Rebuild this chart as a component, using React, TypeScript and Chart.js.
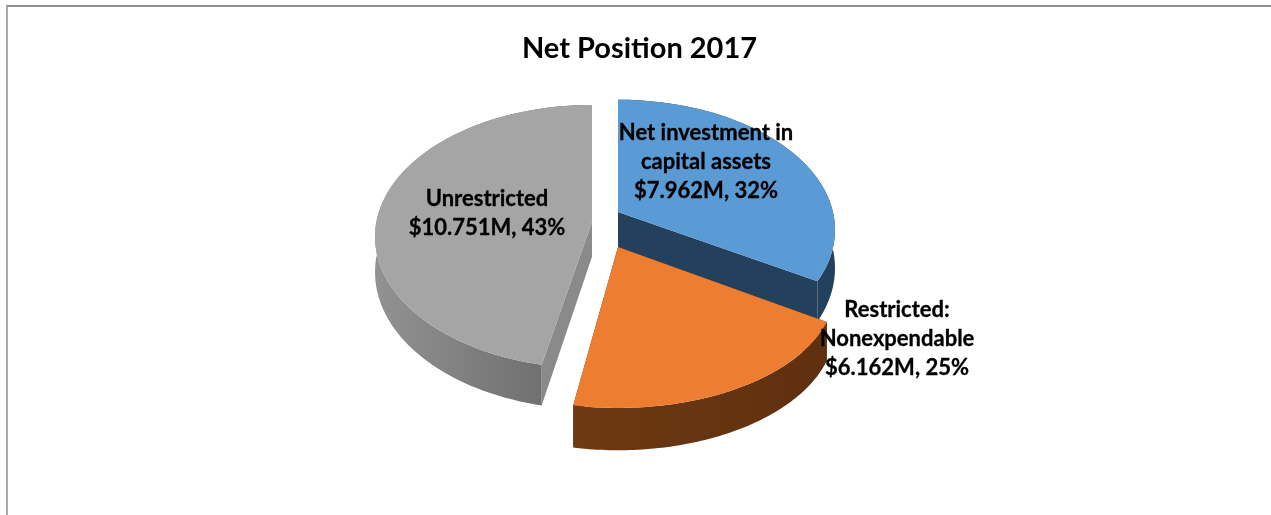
import React, { useEffect, useRef } from "react";
import { Chart, registerables } from "chart.js";

Chart.register(...registerables);

const categories = ["Net investment in capital assets", "Restricted: Nonexpendable", "Unrestricted"];
const valuesMillions = [7.962, 6.162, 10.751];
const labelLines = [["Net investment in", "capital assets"], ["Restricted:", "Nonexpendable"], ["Unrestricted"]];
const sliceColors = ["#5b9bd5", "#ed7d31", "#a5a5a5"];
const chartTitle = "Net Position 2017";

// How each exploded slice is projected (pseudo-3D), relative to the arc centre the library computes.
const faces = [
  { dx: -21.5, dy: -20, ry: 0.6, cy: 0.083, warp: [0, -2], extra: 3, wall: ["#23405c", "#23405c"], cut: "#23405c" },
  { dx: -21.5, dy: 15, ry: 0.544, cy: 0.198, warp: [-9.4, -12.5], extra: 0, wall: ["#6e3913", "#5f300f"], cut: "#633210" },
  { dx: -47.5, dy: -10, ry: 0.607, cy: 0.068, warp: [-11, 0], extra: 0, wall: ["#929292", "#666666"], cut: "#8a8a8a" },
];
const labelOffsets = [
  { x: 66.5, y: -98.5 },
  { x: 257.5, y: 78.5 },
  { x: -152.5, y: -32.5 },
];

const pie3d = {
  id: "pie3d",
  beforeDatasetsDraw(chart: any) {
    const ctx = chart.ctx;
    const arcs = chart.getDatasetMeta(0).data;
    const total = valuesMillions.reduce((a, b) => a + b, 0);
    const depthAt = (y: number) => 30 + 0.04 * (y - 100);

    const rims = arcs.map((arc: any, i: number) => {
      const f = faces[i];
      const a0 = arc.startAngle + Math.PI / 2;
      const a1 = arc.endAngle + Math.PI / 2;
      const R = arc.outerRadius;
      const ax = arc.x + f.dx;
      const ay = arc.y + f.dy;
      const pts: [number, number][] = [];
      const N = 80;
      for (let k = 0; k <= N; k++) {
        const p = k / N;
        const t = a0 + (a1 - a0) * p + ((f.warp[0] + (f.warp[1] - f.warp[0]) * p) * Math.PI) / 180;
        pts.push([ax + R * Math.sin(t), ay + R * (f.cy - f.ry * Math.cos(t))]);
      }
      return { ax, ay, pts };
    });

    const order = [0, 2, 1];
    order.forEach((i) => {
      const f = faces[i];
      const { ax, ay, pts } = rims[i];
      const xs = pts.map((p: number[]) => p[0]);
      const depth = (y: number) => depthAt(y) + f.extra;

      // cut walls
      ctx.fillStyle = f.cut;
      [pts[0], pts[pts.length - 1]].forEach((p: number[]) => {
        ctx.beginPath();
        ctx.moveTo(ax, ay);
        ctx.lineTo(p[0], p[1]);
        ctx.lineTo(p[0], p[1] + depth(p[1]));
        ctx.lineTo(ax, ay + depth(ay));
        ctx.closePath();
        ctx.fill();
      });

      // outer wall
      const g = ctx.createLinearGradient(Math.min(...xs), 0, Math.max(...xs), 0);
      g.addColorStop(0, f.wall[0]);
      g.addColorStop(1, f.wall[1]);
      ctx.fillStyle = g;
      ctx.beginPath();
      pts.forEach((p: number[], k: number) => (k ? ctx.lineTo(p[0], p[1]) : ctx.moveTo(p[0], p[1])));
      for (let k = pts.length - 1; k >= 0; k--) ctx.lineTo(pts[k][0], pts[k][1] + depth(pts[k][1]));
      ctx.closePath();
      ctx.fill();

      // top face
      ctx.fillStyle = arcs[i].options.backgroundColor;
      ctx.beginPath();
      ctx.moveTo(ax, ay);
      pts.forEach((p: number[]) => ctx.lineTo(p[0], p[1]));
      ctx.closePath();
      ctx.fill();
    });

    // data labels
    ctx.fillStyle = "#000000";
    ctx.strokeStyle = "#000000";
    ctx.lineWidth = 0.3;
    ctx.font = "bold 22px Lato";
    ctx.textAlign = "center";
    ctx.textBaseline = "middle";
    arcs.forEach((arc: any, i: number) => {
      const pct = Math.round((valuesMillions[i] / total) * 100);
      const lines = [...labelLines[i], `$${valuesMillions[i].toFixed(3)}M, ${pct}%`];
      lines.forEach((line, k) => {
        const x = arc.x + labelOffsets[i].x;
        const y = arc.y + labelOffsets[i].y + k * 28.7;
        ctx.fillText(line, x, y);
        ctx.strokeText(line, x, y);
      });
    });
    return false;
  },
};

export default function App() {
  const ref = useRef<HTMLCanvasElement | null>(null);
  useEffect(() => {
    document.body.style.margin = "0";
    const chart = new Chart(ref.current as HTMLCanvasElement, {
      type: "pie",
      data: {
        labels: categories,
        datasets: [{ data: valuesMillions, backgroundColor: sliceColors, borderWidth: 0 }],
      },
      options: {
        responsive: false,
        animation: false,
        events: [],
        radius: 217,
        layout: { padding: { bottom: 124 } },
        plugins: {
          legend: { display: false },
          tooltip: { enabled: false },
          title: {
            display: true,
            text: chartTitle,
            color: "#000000",
            font: { family: "Lato", size: 29, weight: "bold", lineHeight: 1.2 },
            padding: { top: 31, bottom: 7 },
          },
        },
      },
      plugins: [pie3d],
    } as any);
    return () => chart.destroy();
  }, []);
  return (
    <div style={{ position: "relative", width: 1271, height: 515, overflow: "hidden", background: "#ffffff" }}>
      <div style={{ position: "absolute", left: 6, top: 5, width: 1265, height: 510, boxSizing: "border-box", borderTop: "2px solid #8f8f8f", borderLeft: "2px solid #aaaaaa" }} />
      <canvas ref={ref} width={1263} height={515} style={{ position: "absolute", left: 8, top: 0, width: 1263, height: 515 }} />
    </div>
  );
}
